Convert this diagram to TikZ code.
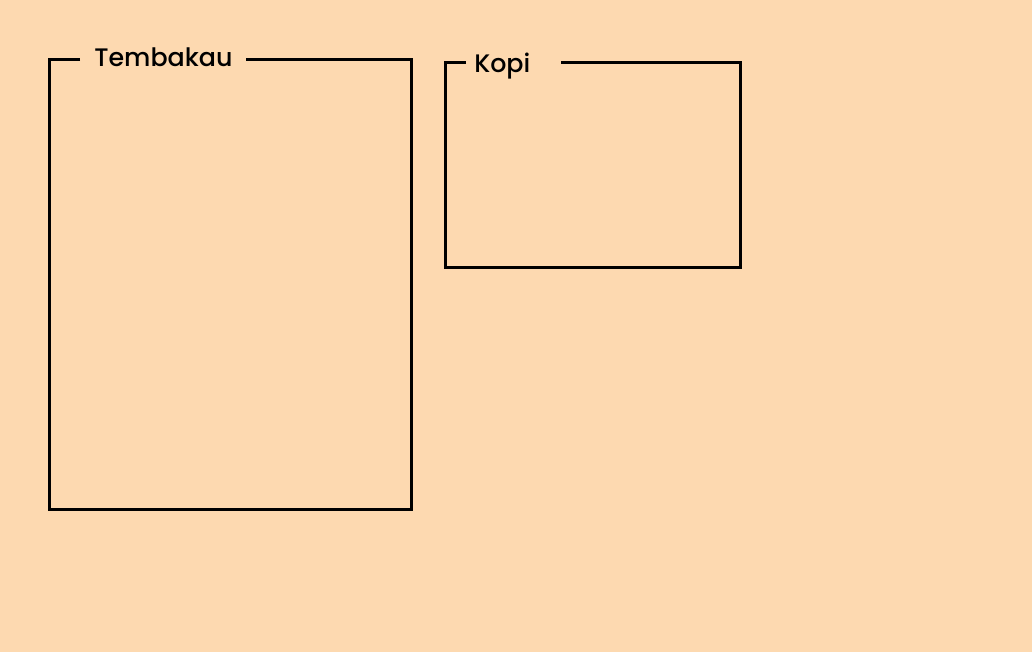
\documentclass[tikz,border=0pt]{standalone}
\usepackage{fontspec}
\newfontfamily\captionfont{Poppins Medium}
\definecolor{peach}{HTML}{FDD9B0}
\tikzset{
  frame/.style={draw=black, line width=2.25pt},
  caption/.style={font=\captionfont\fontsize{19}{22}\selectfont, inner sep=0pt, anchor=base west}
}
\begin{document}
\begin{tikzpicture}[x=0.75pt,y=-0.75pt]
\fill [peach] (0,0) rectangle (1032,652);
% Tembakau frame
\node [caption] (tembakau) at (94,67) {Tembakau};
\draw [frame] (80,60) -| (49,509) -| (411,60) -- (246,60);
% Kopi frame
\node [caption] (kopi) at (474,73) {Kopi};
\draw [frame] (466,63) -| (445,268) -| (740,63) -- (561,63);
\end{tikzpicture}
\end{document}
